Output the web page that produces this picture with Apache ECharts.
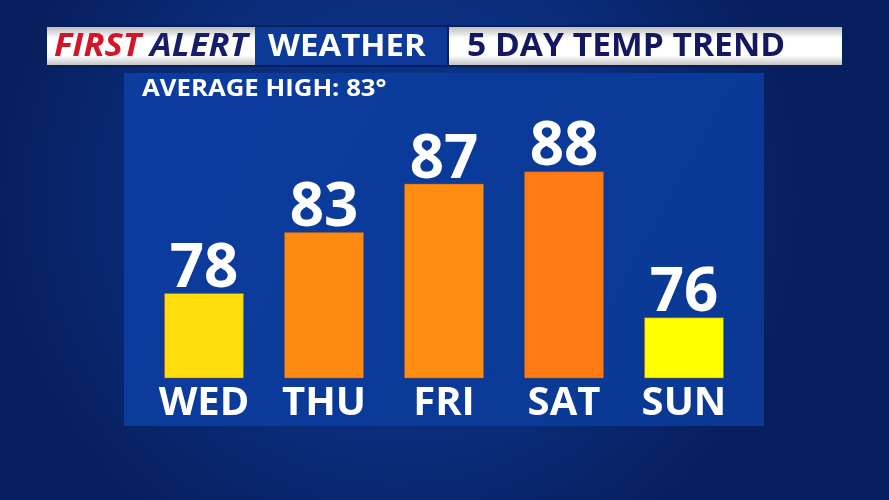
<!DOCTYPE html>
<html><head><meta charset="utf-8">
<script src="https://cdn.jsdelivr.net/npm/echarts@6/dist/echarts.min.js"></script>
<style>html,body{margin:0;padding:0;background:#0a2a74}#c{width:889px;height:500px}</style>
</head><body><div id="c"></div>
<script>
var days = ['WED', 'THU', 'FRI', 'SAT', 'SUN'];
var highs = [78, 83, 87, 88, 76];
var barColors = ['#FFDD0C', '#FF8A12', '#FF8C12', '#FF7A12', '#FFFF00'];
var titleLeft = ['FIRST', 'ALERT'];
var titleMid = 'WEATHER';
var titleRight = '5 DAY TEMP TREND';
var subtitle = 'AVERAGE HIGH: 83°';

var FONT = '"Open Sans", "Noto Sans", sans-serif';
var chart = echarts.init(document.getElementById('c'), null, {renderer: 'canvas'});
var whiteGrad = {type: 'linear', x: 0, y: 0, x2: 0, y2: 1, colorStops: [
  {offset: 0, color: '#bdbdbd'}, {offset: 0.3, color: '#ffffff'}, {offset: 0.75, color: '#ffffff'}, {offset: 1, color: '#c4c4c4'}]};

chart.setOption({
  backgroundColor: {type: 'radial', x: 0.45, y: 0.4, r: 0.8, colorStops: [
    {offset: 0, color: '#0c3790'}, {offset: 0.6, color: '#0a2c7a'}, {offset: 1, color: '#071f5e'}]},
  animation: false,
  graphic: [
    {type: 'rect', z: 0, shape: {x: 124, y: 73, width: 640, height: 353},
      style: {fill: {type: 'linear', x: 0, y: 0, x2: 1, y2: 1, colorStops: [
        {offset: 0, color: '#0b3c9e'}, {offset: 1, color: '#0a3894'}]}}},
    {type: 'rect', z: 0, shape: {x: 45, y: 25, width: 799, height: 42}, style: {fill: '#0a1f58'}},
    {type: 'rect', z: 1, shape: {x: 47, y: 27, width: 208, height: 38}, style: {fill: whiteGrad}},
    {type: 'rect', z: 1, shape: {x: 255, y: 27, width: 192, height: 38}, style: {fill: '#0d3a98'}},
    {type: 'rect', z: 1, shape: {x: 449, y: 27, width: 393, height: 38}, style: {fill: whiteGrad}},
    {type: 'text', z: 2, x: 54, y: 47, scaleX: 1.08, style: {
      text: '{r|' + titleLeft[0] + '} {n|' + titleLeft[1] + '}',
      verticalAlign: 'middle', font: 'italic bold 32px ' + FONT,
      rich: {r: {fill: '#D3152A', fontStyle: 'italic', fontWeight: 'bold', fontSize: 32, fontFamily: FONT},
             n: {fill: '#161E6A', fontStyle: 'italic', fontWeight: 'bold', fontSize: 32, fontFamily: FONT}}}},
    {type: 'text', z: 2, x: 268, y: 47, scaleX: 1.1, style: {text: titleMid, fill: '#ffffff',
      verticalAlign: 'middle', font: 'bold 30px ' + FONT}},
    {type: 'text', z: 2, x: 467, y: 47, scaleX: 1.05, style: {text: titleRight, fill: '#141860',
      verticalAlign: 'middle', font: 'bold 32px ' + FONT}},
    {type: 'text', z: 2, x: 142, y: 89, scaleX: 1.12, style: {text: subtitle, fill: '#ffffff',
      verticalAlign: 'middle', font: 'bold 23px ' + FONT}}
  ],
  grid: {left: 144, right: 145, top: 147, bottom: 122, containLabel: false},
  xAxis: {type: 'category', data: days,
    axisLine: {show: false}, axisTick: {show: false},
    axisLabel: {color: '#ffffff', fontSize: 40, fontWeight: 'bold', fontFamily: FONT, margin: 6}},
  yAxis: {type: 'value', min: 71, max: 90, show: false, splitLine: {show: false}},
  series: [{type: 'bar', z: 5, barWidth: 80,
    data: highs.map(function (v, i) { return {value: v, itemStyle: {color: barColors[i]}}; }),
    itemStyle: {borderColor: 'rgba(160,90,20,0.5)', borderWidth: 1},
    label: {show: true, position: 'top', distance: -7, color: '#ffffff', fontSize: 60,
      fontWeight: 'bold', fontFamily: FONT}}]
});
</script></body></html>
